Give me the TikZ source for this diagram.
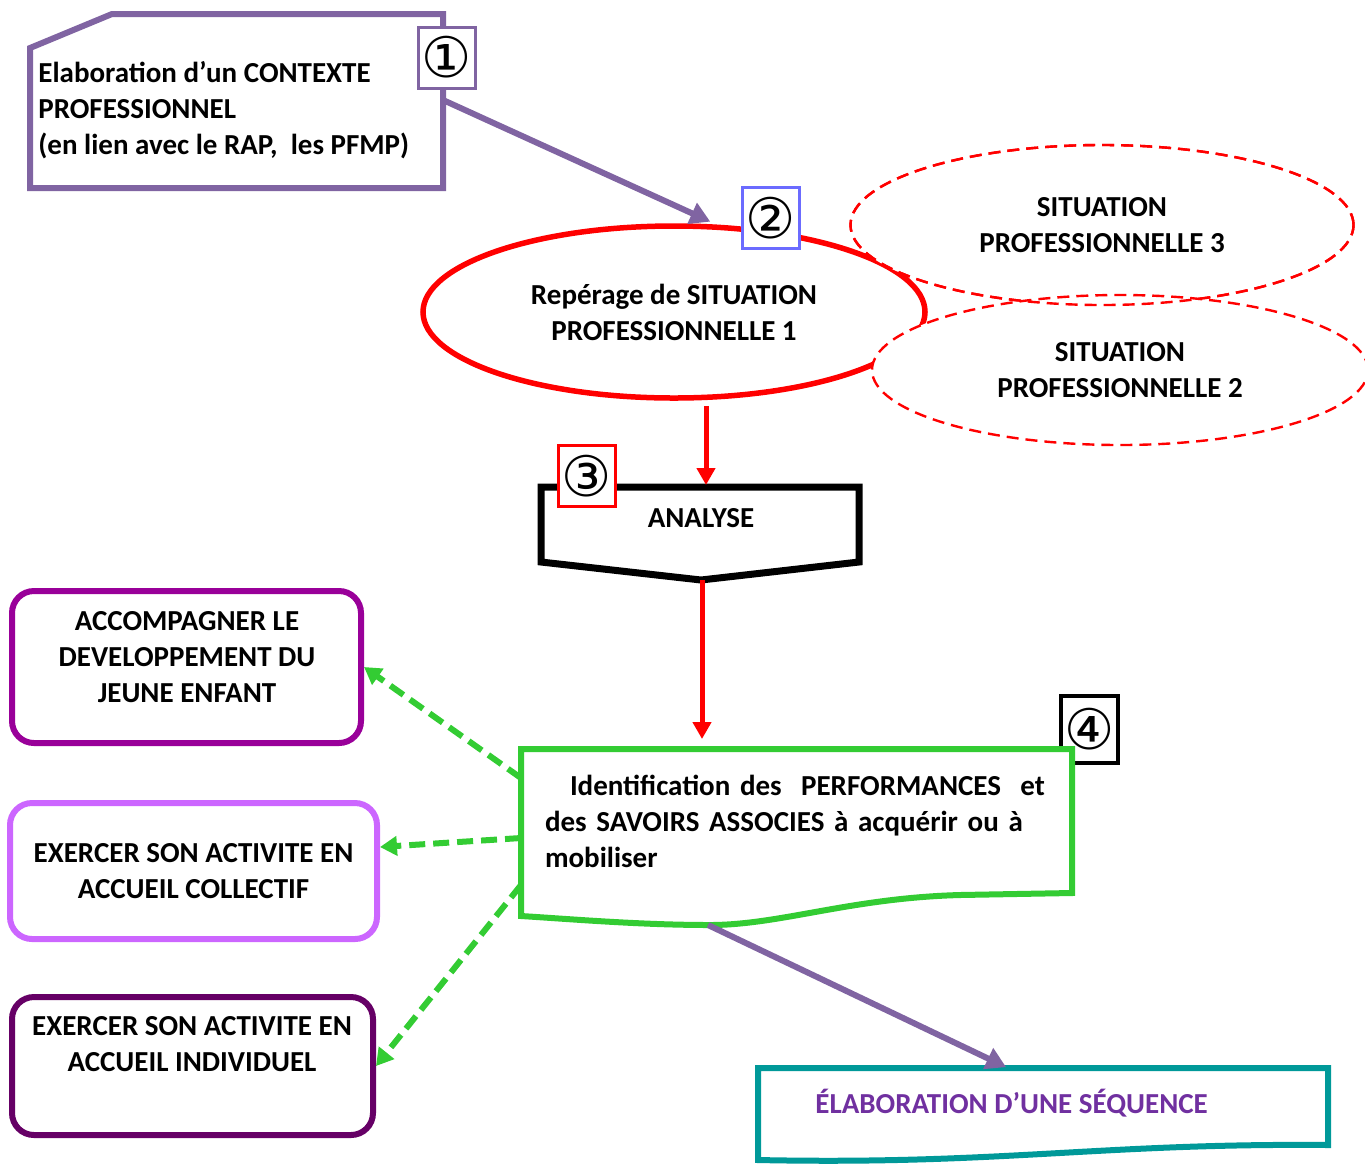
\documentclass[tikz,border=0pt]{standalone}
\usepackage{fontspec}
\setmainfont{Carlito}
\newfontfamily\symfont{DejaVu Sans}
\usepackage{tikz}
\usetikzlibrary{shapes,arrows.meta,positioning,calc}
\definecolor{ctxpurple}{HTML}{8064A2}
\definecolor{badgeblue}{HTML}{6B6BFF}
\definecolor{identgreen}{HTML}{33CC33}
\definecolor{accpurple}{HTML}{990099}
\definecolor{colviolet}{HTML}{CC66FF}
\definecolor{indpurple}{HTML}{660066}
\definecolor{seqteal}{HTML}{009999}
\definecolor{seqtext}{HTML}{7030A0}

\begin{document}
\begin{tikzpicture}[x=0.5pt, y=-0.5pt,
  txt/.style={font=\fontsize{14.5}{18}\selectfont\bfseries, inner sep=0pt, align=center},
  badge/.style={draw, line width=1.5pt, fill=white, minimum width=28.5pt, minimum height=30.5pt,
                inner sep=0pt, font=\symfont\fontsize{28}{28}\selectfont},
  situation/.style={ellipse, draw=red, line width=2.75pt, inner sep=0pt, txt},
  othersit/.style={ellipse, draw=red, line width=1.2pt, dash pattern=on 6pt off 3.5pt,
                   fill=white, inner sep=0pt, txt},
  skillbox/.style={draw, rounded corners=11pt, line width=3pt, fill=white, inner sep=0pt, txt},
  frame/.style={line width=3pt, line join=miter},
  link/.style={-{Triangle[length=10pt,width=11pt]}, line width=3pt, ctxpurple},
  redlink/.style={-{Triangle[length=8.5pt,width=9pt]}, line width=2.5pt, red},
  greenlink/.style={-{Triangle[length=8.5pt,width=9.5pt]}, line width=3pt, identgreen,
                    dash pattern=on 8pt off 4pt}
]
\useasboundingbox (0,0) rectangle (1365,1164);

% Context box
\draw[frame, ctxpurple] (30,48) -- (112,14) -- (443,14) -- (443,188) -- (30,188) -- cycle;
\node[txt, anchor=west, align=left] (ctx) at (38,110)
  {Elaboration d’un CONTEXTE\\PROFESSIONNEL\\(en lien avec le RAP,\ \ les PFMP)};
\node[badge, draw=ctxpurple] (b1) at (446.5,57.5) {①};
\coordinate (ctxout) at (443,100);

% Situations
\node[situation, minimum width=251pt, minimum height=86pt] (sp1) at (674,312)
  {Repérage de SITUATION\\PROFESSIONNELLE 1};
\node[badge, draw=badgeblue] (b2) at (771,218) {②};
\node[othersit, minimum width=251.5pt, minimum height=80pt] (sp3) at (1102,225)
  {SITUATION\\PROFESSIONNELLE 3};
\node[othersit, minimum width=248pt, minimum height=75pt] (sp2) at (1120,370)
  {SITUATION\\PROFESSIONNELLE 2};
\draw[red, line width=1.2pt, dash pattern=on 6pt off 3.5pt]
  (sp3.center) ellipse [x radius=125.75pt, y radius=40pt];

\draw[link, shorten >=3.5pt] (ctxout) -- (sp1.64);

% Analyse
\draw[frame, line width=3.5pt] (541,487) -- (859,487) -- (859,562) -- (701,580) -- (541,562) -- cycle;
\node[txt] (analyse) at (701,518) {ANALYSE};
\node[badge, draw=red] (b3) at (587,476) {③};
\coordinate (analysetop) at (706,485);
\coordinate (analysebot) at (702,580);
\draw[redlink] ([yshift=-2.5pt]sp1.south -| analysetop) -- (analysetop);

% Performances
\node[badge, draw=black, line width=2pt, minimum height=33.5pt] (b4) at (1089.5,729.5) {④};
\draw[frame, identgreen, fill=white] (521,749) -- (1072,749) -- (1072,893) -- (960,895)
  .. controls (850,898) and (780,925) .. (710,925)
  .. controls (640,925) and (570,919) .. (521,916) -- cycle;
\node[txt, align=left, text width=251.5pt, inner xsep=12pt] (ident) at (796.5,821)
  {\hspace*{12.5pt}Identification des\ \ PERFORMANCES\ \ et\\
   des SAVOIRS ASSOCIES à acquérir ou à\\mobiliser};
\draw[redlink, shorten >=5pt] (analysebot) -- (analysebot |- 521,749);

% Skills
\node[skillbox, draw=accpurple, minimum width=174.5pt, minimum height=76pt] (acc) at (186.5,667) {};
\node[txt] (acctxt) at (187,657) {ACCOMPAGNER LE\\DEVELOPPEMENT DU\\JEUNE ENFANT};
\node[skillbox, draw=colviolet, minimum width=183.5pt, minimum height=68pt] (col) at (193.5,871)
  {EXERCER SON ACTIVITE EN\\ACCUEIL COLLECTIF};
\node[skillbox, draw=indpurple, minimum width=180.5pt, minimum height=69pt] (ind) at (192.5,1066) {};
\node[txt] (indtxt) at (192,1044) {EXERCER SON ACTIVITE EN\\ACCUEIL INDIVIDUEL};

\coordinate (identw1) at (521,778);
\coordinate (identw2) at (521,838);
\coordinate (identw3) at (521,885);
\draw[greenlink] (identw1) -- (acc.east);
\draw[greenlink] (identw2) -- ([yshift=12pt]col.east);
\draw[greenlink] (identw3) -- (ind.east);

% Sequence
\draw[frame, seqteal] (758,1068) -- (1328,1068) -- (1328,1145)
  .. controls (1100,1143) and (1000,1165) .. (758,1160) -- cycle;
\node[txt, anchor=west, text=seqtext] (seq) at (815,1103) {ÉLABORATION D’UNE SÉQUENCE};
\coordinate (identbot) at (708,925);
\coordinate (seqtop) at (1008,1068);
\draw[link, shorten >=1pt] (identbot) -- (seqtop);
\end{tikzpicture}
\end{document}
